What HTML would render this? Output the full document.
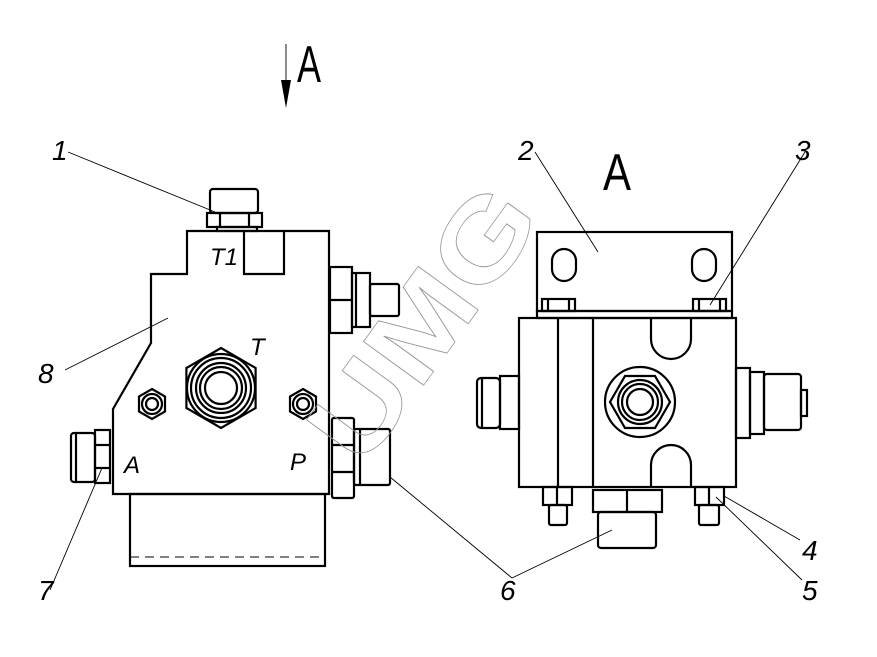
<!DOCTYPE html>
<html><head><meta charset="utf-8"><style>
html,body{margin:0;padding:0;background:#fff;}
svg{display:block}
text{font-family:"Liberation Sans",sans-serif;}
</style></head><body>
<svg width="877" height="657" viewBox="0 0 877 657" xmlns="http://www.w3.org/2000/svg">
<g fill="none" stroke="#000" stroke-width="2.2" stroke-linejoin="miter">
<path d="M187 231 H329 V494 H113 V409 L151 343 V274 H187 Z"/>
<path d="M244 231 V274 H284 V231"/>
<rect x="130" y="494" width="195" height="72"/>
<rect x="210" y="189" width="48" height="24" rx="3"/>
<rect x="207" y="213" width="55" height="14"/>
<line x1="220" y1="213" x2="220" y2="227"/><line x1="249" y1="213" x2="249" y2="227"/>
<rect x="217" y="227" width="40" height="4"/>
<polygon points="221,348 255.6,368 255.6,408 221,428 186.4,408 186.4,368"/>
<circle cx="221" cy="388" r="34"/><circle cx="221" cy="388" r="30"/><circle cx="221" cy="388" r="25"/><circle cx="221" cy="388" r="21"/><circle cx="221" cy="388" r="16"/>
<polygon points="152,389 165,396.5 165,411.5 152,419 139,411.5 139,396.5"/>
<circle cx="152" cy="404" r="10"/><circle cx="152" cy="404" r="6"/>
<polygon points="303,389 316,396.5 316,411.5 303,419 290,411.5 290,396.5"/>
<circle cx="303" cy="404" r="10"/><circle cx="303" cy="404" r="6"/>
<rect x="330" y="267" width="22" height="66"/>
<line x1="330" y1="300" x2="352" y2="300"/>
<rect x="352" y="273" width="18" height="54"/>
<line x1="356" y1="273" x2="356" y2="327"/>
<rect x="370" y="284" width="29" height="32" rx="2"/>
<rect x="332" y="418" width="22" height="80" rx="2"/>
<line x1="332" y1="445" x2="354" y2="445"/><line x1="332" y1="472" x2="354" y2="472"/>
<rect x="354" y="429" width="36" height="56" rx="2"/>
<line x1="360" y1="429" x2="360" y2="485"/>
<rect x="95" y="430" width="15" height="53"/>
<line x1="95" y1="445" x2="110" y2="445"/><line x1="95" y1="468" x2="110" y2="468"/>
<rect x="71" y="433" width="24" height="49" rx="3"/>
<line x1="76" y1="433" x2="76" y2="482"/>
</g>
<line x1="130" y1="557" x2="325" y2="557" stroke="#000" stroke-width="1" stroke-dasharray="9,6"/>
<g fill="none" stroke="#000" stroke-width="2.2">
<rect x="537" y="232" width="195" height="79"/>
<rect x="537" y="311" width="195" height="7"/>
<rect x="552" y="249" width="24" height="32" rx="12"/>
<rect x="692" y="249" width="24" height="32" rx="12"/>
<rect x="542" y="299" width="33" height="12"/><line x1="548" y1="299" x2="548" y2="311"/><line x1="569" y1="299" x2="569" y2="311"/>
<rect x="693" y="299" width="33" height="12"/><line x1="699" y1="299" x2="699" y2="311"/><line x1="720" y1="299" x2="720" y2="311"/>
<rect x="519" y="318" width="217" height="169"/>
<line x1="558" y1="318" x2="558" y2="487"/><line x1="593" y1="318" x2="593" y2="487"/>
<path d="M651 318 V339 A20 20 0 0 0 691 339 V318"/>
<path d="M651 487 V465 A20 20 0 0 1 691 465 V487"/>
<circle cx="640" cy="402" r="35"/>
<polygon points="610,402 625,376 655,376 670,402 655,428 625,428"/>
<circle cx="640" cy="402" r="22"/><circle cx="640" cy="402" r="18"/><circle cx="640" cy="402" r="13"/>
<rect x="500" y="376" width="19" height="53"/>
<rect x="477" y="378" width="23" height="50" rx="4"/>
<line x1="482" y1="378" x2="482" y2="428"/>
<rect x="736" y="368" width="14" height="70"/>
<rect x="750" y="372" width="14" height="62"/>
<rect x="764" y="374" width="37" height="56" rx="3"/>
<rect x="801" y="390" width="6" height="26"/>
<rect x="543" y="487" width="29" height="18"/><line x1="557" y1="487" x2="557" y2="505"/>
<rect x="549" y="505" width="18" height="20" rx="2"/>
<rect x="695" y="487" width="29" height="18"/><line x1="709" y1="487" x2="709" y2="505"/>
<rect x="699" y="505" width="20" height="20" rx="2"/>
<rect x="593" y="490" width="69" height="22"/><line x1="627" y1="490" x2="627" y2="512"/>
<rect x="598" y="512" width="58" height="36" rx="3"/>
</g>
<g stroke="#000" stroke-width="0.9" fill="none">
<line x1="68" y1="152" x2="215" y2="212"/>
<line x1="535" y1="152" x2="598" y2="252"/>
<line x1="805" y1="152" x2="710" y2="305"/>
<line x1="65" y1="370" x2="168" y2="318"/>
<line x1="50" y1="590" x2="102" y2="468"/>
<line x1="512" y1="578" x2="390" y2="477"/>
<line x1="512" y1="578" x2="612" y2="530"/>
<line x1="800" y1="540" x2="724" y2="496"/>
<line x1="802" y1="580" x2="716" y2="497"/>
<line x1="286" y1="44" x2="286" y2="80"/>
</g>
<polygon points="281,80 291,80 286,108" fill="#000"/>
<text x="0" y="0" transform="translate(362,470) rotate(-54)" font-size="108" fill="none" stroke="#999" stroke-width="0.8" font-weight="bold" textLength="310" lengthAdjust="spacingAndGlyphs">UMG</text>
<text x="297" y="82" font-size="52" fill="#000" textLength="24" lengthAdjust="spacingAndGlyphs">A</text>
<text x="603" y="190" font-size="52" fill="#000" textLength="28" lengthAdjust="spacingAndGlyphs">A</text>
<g font-style="italic" font-size="28" fill="#000">
<text x="52" y="160">1</text>
<text x="518" y="160">2</text>
<text x="795" y="160">3</text>
<text x="38" y="383">8</text>
<text x="802" y="560">4</text>
<text x="802" y="600">5</text>
<text x="500" y="600">6</text>
<text x="38" y="600">7</text>
<text x="210" y="265" font-size="24">T1</text>
<text x="250" y="355" font-size="24">T</text>
<text x="124" y="473" font-size="24">A</text>
<text x="290" y="470" font-size="24">P</text>
</g>
</svg>
</body></html>
